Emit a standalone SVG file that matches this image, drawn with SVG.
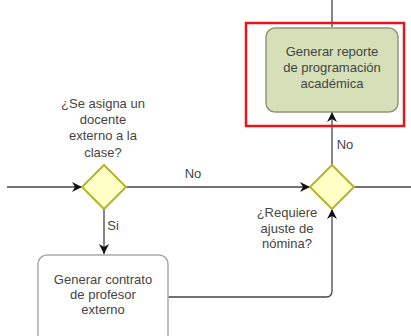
<svg xmlns="http://www.w3.org/2000/svg" width="411" height="336" viewBox="0 0 411 336">
<style>
text{font-family:"Liberation Sans",Arial,sans-serif;font-size:13px;fill:#444;text-anchor:middle}
.c{fill:none;stroke:#444;stroke-width:1.3}
.gw{fill:#ffffc6;stroke:#b4b42d;stroke-width:2}
</style>
<defs>
<marker id="a" viewBox="0 0 10 10" refX="10" refY="5" markerWidth="10" markerHeight="10" markerUnits="userSpaceOnUse" orient="auto">
<path d="M0,0 L10,5 L0,10 L3,5 Z" fill="#111"/>
</marker>
</defs>
<g id="connectors">
<path class="c" d="M7,187 H82" marker-end="url(#a)"/>
<path class="c" d="M126,187 H310" marker-end="url(#a)"/>
<path class="c" d="M354,187 H411"/>
<path class="c" d="M332,0 V27"/>
<path class="c" d="M332,165 V112" marker-end="url(#a)"/>
<path class="c" d="M104,209 V254" marker-end="url(#a)"/>
<path class="c" d="M168,297 H326 Q332,297 332,291 V209" marker-end="url(#a)"/>
<text x="193" y="178">No</text>
<text x="345" y="149">No</text>
<text x="113" y="230">Si</text>
</g>
<g id="gw1">
<path class="gw" d="M104,165 L126,187 L104,209 L82,187 Z"/>
<text x="103" y="108">¿Se asigna un</text>
<text x="103" y="124">docente</text>
<text x="103" y="140">externo a la</text>
<text x="103" y="157">clase?</text>
</g>
<g id="gw2">
<path class="gw" d="M332,165 L354,187 L332,209 L310,187 Z"/>
<text x="287" y="217">¿Requiere</text>
<text x="287" y="233">ajuste de</text>
<text x="287" y="248">nómina?</text>
</g>
<g id="task1">
<rect x="246" y="23" width="158" height="103" fill="none" stroke="#e8141b" stroke-width="2.5"/>
<rect x="266" y="28" width="132" height="84" rx="9" fill="#d6e0b8" stroke="#8f9679" stroke-width="1.5"/>
<text x="332" y="56">Generar reporte</text>
<text x="332" y="72">de programación</text>
<text x="332" y="88">académica</text>
</g>
<g id="task2">
<rect x="38" y="255" width="130" height="90" rx="9" fill="#fff" stroke="#aaa" stroke-width="1.5"/>
<text x="103" y="284">Generar contrato</text>
<text x="103" y="299">de profesor</text>
<text x="103" y="314">externo</text>
</g>
</svg>
